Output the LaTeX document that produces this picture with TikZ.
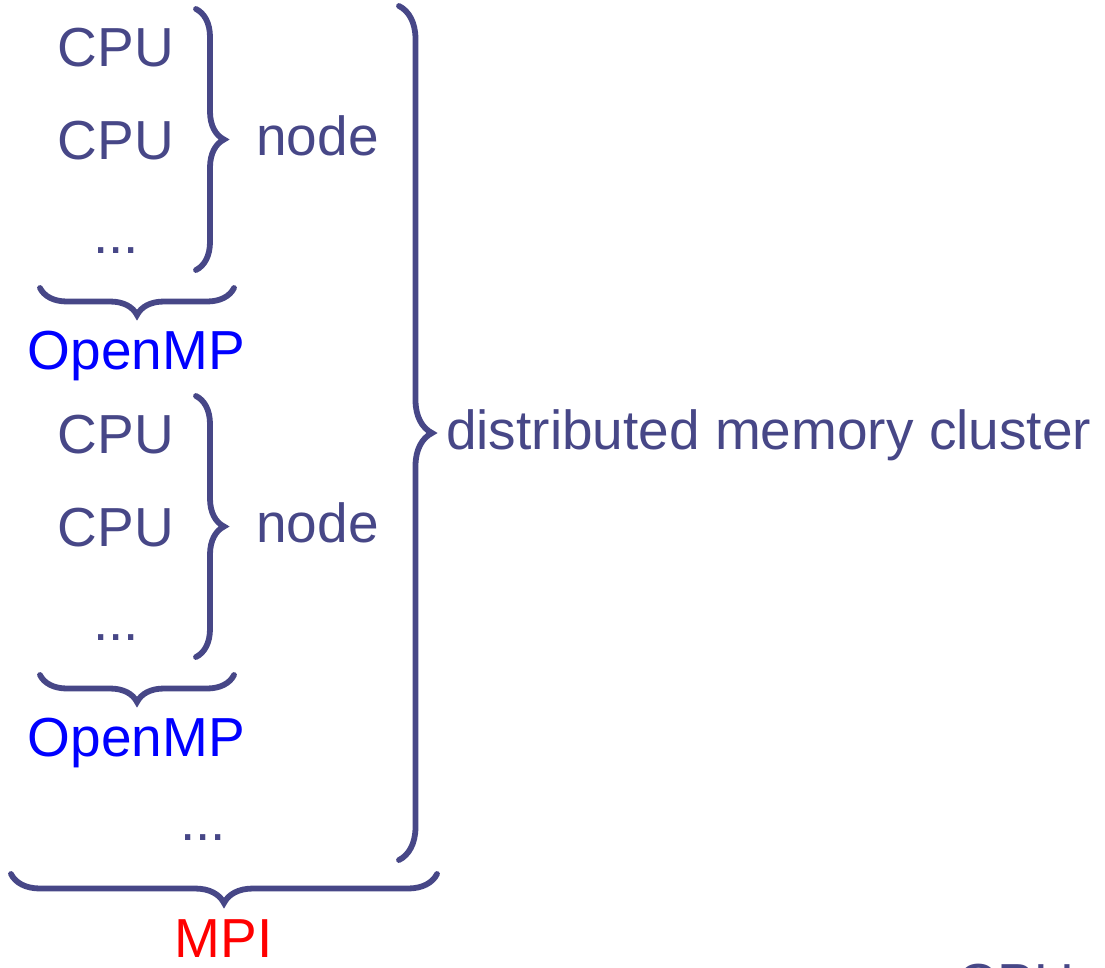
\documentclass[tikz,border=0pt]{standalone}
\usepackage{fontspec}
\setmainfont{Liberation Sans}
\usetikzlibrary{decorations.pathreplacing}
\definecolor{struct}{RGB}{71,71,135}
\definecolor{ompblue}{RGB}{0,0,255}
\definecolor{mpired}{RGB}{255,0,0}
\begin{document}
\begin{tikzpicture}[x=1pt,y=-1pt,
  lbl/.style={inner sep=0pt,anchor=base,text=struct,font=\fontsize{55}{66}\selectfont},
  bracestyle/.style={draw=struct,line width=5.8pt,line cap=round,decorate,decoration={brace,amplitude=#1}}]
\useasboundingbox (0,0) rectangle (1105,967);
\clip (0,0) rectangle (1105,967);
% group 1
\node[lbl] (c11) at (116,66) {CPU};
\node[lbl] (c12) at (116,159) {CPU};
\node[lbl] (d1) at (116,253) {...};
\node[lbl] (n1) at (317.5,155) {node};
\node[lbl,text=ompblue] (o1) at (136.5,369) {OpenMP};
\coordinate (b1t) at (196,9);
\coordinate (b1b) at (196,270);
\draw[bracestyle=28] (b1t) -- (b1b);
\coordinate (h1r) at (234,288);
\coordinate (h1l) at (40,288);
\draw[bracestyle=27] (h1r) -- (h1l);
% group 2
\node[lbl] (c21) at (116,453) {CPU};
\node[lbl] (c22) at (116,546) {CPU};
\node[lbl] (d2) at (116,640) {...};
\node[lbl] (n2) at (317.5,542) {node};
\node[lbl,text=ompblue] (o2) at (136.5,756) {OpenMP};
\coordinate (b2t) at (196,396);
\coordinate (b2b) at (196,657);
\draw[bracestyle=28] (b2t) -- (b2b);
\coordinate (h2r) at (234,675);
\coordinate (h2l) at (40,675);
\draw[bracestyle=27] (h2r) -- (h2l);
% cluster
\node[lbl] (d3) at (203,840) {...};
\coordinate (bct) at (399,6);
\coordinate (bcb) at (399,860);
\draw[bracestyle=33] (bct) -- (bcb);
\node[lbl,anchor=base west] (dmc) at (446,449) {distributed memory cluster};
% MPI
\coordinate (mr) at (437,874);
\coordinate (ml) at (11,874);
\draw[bracestyle=29] (mr) -- (ml);
\node[lbl,text=mpired] (mpi) at (223.5,957) {MPI};
% cut-off label
\node[lbl] (cpucut) at (1016,1002) {CPU};
\end{tikzpicture}
\end{document}
